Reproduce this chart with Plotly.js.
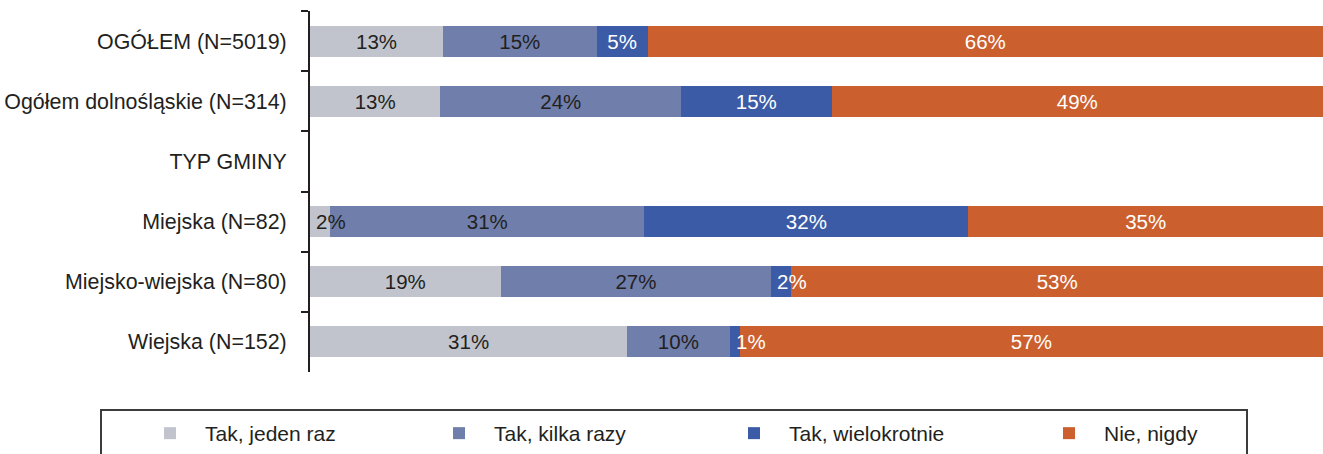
<!DOCTYPE html>
<html>
<head>
<meta charset="utf-8">
<script src="https://cdn.plot.ly/plotly-3.0.1.min.js"></script>
<style>
  html, body { margin: 0; padding: 0; background: #ffffff; }
  #chart { width: 1323px; height: 454px; }
</style>
</head>
<body>
<div id="chart"></div>
<script>
// Row labels, top to bottom ("TYP GMINY" is a section header with no bar)
const categories = [
  'OGÓŁEM (N=5019)',
  'Ogółem dolnośląskie (N=314)',
  'TYP GMINY',
  'Miejska (N=82)',
  'Miejsko-wiejska (N=80)',
  'Wiejska (N=152)'
];

// Answer options (legend order)
const seriesNames = ['Tak, jeden raz', 'Tak, kilka razy', 'Tak, wielokrotnie', 'Nie, nigdy'];

// Shares in percent for each row
const jedenRaz     = [13, 13, null,  2, 19, 31];
const kilkaRazy    = [15, 24, null, 31, 27, 10];
const wielokrotnie = [ 5, 15, null, 32,  2,  1];
const nigdy        = [66, 49, null, 35, 53, 57];

const seriesValues = [jedenRaz, kilkaRazy, wielokrotnie, nigdy];
const seriesColors = ['#c1c4cc', '#6f7eab', '#3b5ba7', '#cc5f2e'];
const labelColors  = ['#231f20', '#231f20', '#ffffff', '#ffffff'];
// spacing of the legend entries (px)
const entryWidths  = [214, 220, 240, 140];

const FONT = 'Liberation Sans, Arial, Helvetica, sans-serif';
const LABEL_SIZE = 20.5;
// segments narrower than this get their label left-aligned at the segment start
const NARROW = 3;

const traces = seriesNames.map((name, i) => ({
  type: 'bar',
  orientation: 'h',
  name: name,
  y: categories,
  x: seriesValues[i],
  text: seriesValues[i].map(v => (v == null || v < NARROW ? '' : v + '%')),
  textposition: 'inside',
  insidetextanchor: 'middle',
  textangle: 0,
  constraintext: 'none',
  insidetextfont: { family: FONT, size: LABEL_SIZE, color: labelColors[i] },
  marker: { color: seriesColors[i], line: { width: 0 } },
  legendwidth: entryWidths[i],
  hoverinfo: 'skip'
}));

// Labels of narrow segments: placed at the start of the (normalised) segment
const annotations = [];
categories.forEach((cat, r) => {
  const total = seriesValues.reduce((s, vals) => s + (vals[r] || 0), 0);
  if (!total) return;
  let cum = 0;
  seriesValues.forEach((vals, i) => {
    const v = vals[r];
    if (v == null) return;
    if (v < NARROW) {
      annotations.push({
        xref: 'x', yref: 'y',
        x: cum / total * 100, y: cat,
        text: v + '%',
        showarrow: false,
        xanchor: 'left', yanchor: 'middle',
        xshift: 4,
        font: { family: FONT, size: LABEL_SIZE, color: labelColors[i] }
      });
    }
    cum += v;
  });
});

const layout = {
  width: 1323,
  height: 454,
  margin: { l: 310, r: 0, t: 11, b: 82, pad: 0 },
  paper_bgcolor: '#ffffff',
  plot_bgcolor: '#ffffff',
  font: { family: FONT, size: 21, color: '#231f20' },
  barmode: 'stack',
  barnorm: 'percent',
  bargap: 0.485,
  uniformtext: { mode: 'show', minsize: LABEL_SIZE },
  xaxis: {
    visible: false,
    range: [0, 100],
    fixedrange: true
  },
  yaxis: {
    type: 'category',
    categoryorder: 'array',
    categoryarray: categories,
    range: [5.5, -0.5],
    showline: true,
    linecolor: '#231f20',
    linewidth: 2,
    ticks: 'outside',
    tickson: 'boundaries',
    ticklen: 7,
    tickwidth: 2,
    tickcolor: '#231f20',
    ticklabelstandoff: 17,
    showgrid: false,
    zeroline: false,
    tickfont: { family: FONT, size: 21.4, color: '#231f20' },
    fixedrange: true
  },
  showlegend: true,
  legend: {
    orientation: 'h',
    traceorder: 'normal',
    x: (135 - 310) / 1013,
    xanchor: 'left',
    y: (372 - 434) / 361,
    yanchor: 'middle',
    itemwidth: 60,
    borderwidth: 0,
    bgcolor: 'rgba(0,0,0,0)',
    font: { family: FONT, size: 21, color: '#231f20' },
    itemclick: false,
    itemdoubleclick: false
  },
  annotations: annotations,
  shapes: [{
    type: 'rect',
    xref: 'paper', yref: 'paper',
    x0: (101 - 310) / 1013, x1: (1247 - 310) / 1013,
    y0: (372 - 410) / 361, y1: (372 - 470) / 361,
    line: { color: '#3c3c3c', width: 2 },
    fillcolor: 'rgba(0,0,0,0)',
    layer: 'above'
  }]
};

Plotly.newPlot('chart', traces, layout, { staticPlot: true, displayModeBar: false });
</script>
</body>
</html>
